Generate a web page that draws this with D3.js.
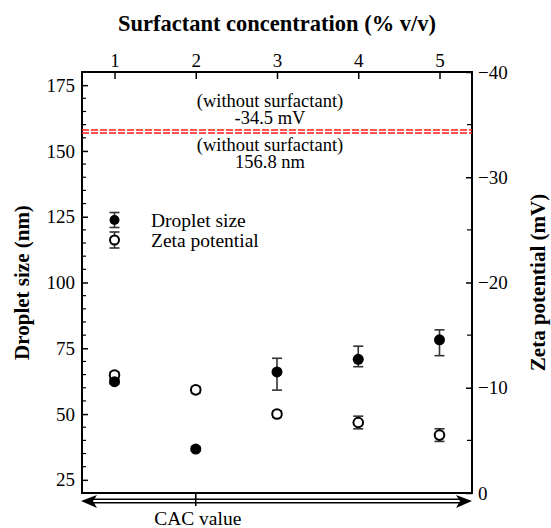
<!DOCTYPE html>
<html>

<head>
    <meta charset="utf-8" />
    <style>
        body {
            margin: 0;
            background-color: white;
        }
        text {
            font-family: "Liberation Serif", "Times New Roman", serif;
        }
    </style>

    <script src="https://d3js.org/d3.v7.min.js"></script>
</head>

<body>
    <script>
        // data
        var concentration = [1, 2, 3, 4, 5];
        var dropletSize = [62.3, 36.7, 66.0, 70.8, 78.2];
        var dropletErrUp = [0.8, 0.8, 5.2, 5.0, 3.8];
        var dropletErrDown = [0.8, 0.8, 6.9, 2.8, 6.0];
        var zetaPotential = [-11.2, -9.8, -7.5, -6.7, -5.5];
        var zetaErr = [0.3, 0.3, 0.3, 0.6, 0.6];

        var topTicks = [1, 2, 3, 4, 5];
        var leftTicks = [25, 50, 75, 100, 125, 150, 175];
        var rightTicks = [0, -10, -20, -30, -40];

        var sizeWithout = 156.8,
            zetaWithout = -34.5;

        var width = 551,
            height = 528;

        // plot frame (note: "top" is reserved on window, so prefix these)
        var pLeft = 82, pRight = 472, pTop = 72, pBottom = 493;

        var svg = d3.select("body").append("svg")
            .attr("width", width)
            .attr("height", height);

        var x = d3.scaleLinear().domain([0.6, 5.4]).range([pLeft, pRight]);
        var yL = d3.scaleLinear().domain([20, 180]).range([pBottom, pTop]);
        var yR = d3.scaleLinear().domain([0, -40]).range([pBottom, pTop]);

        // axes
        var topAxis = svg.append("g")
            .attr("transform", "translate(0," + pTop + ")")
            .call(d3.axisTop(x).tickValues(topTicks).tickFormat(d3.format("d"))
                .tickSizeInner(-7).tickSizeOuter(0).tickPadding(5));

        var leftAxis = svg.append("g")
            .attr("transform", "translate(" + pLeft + ",0)")
            .call(d3.axisLeft(yL).tickValues(leftTicks).tickSizeInner(-6).tickSizeOuter(0).tickPadding(7));

        var rightAxis = svg.append("g")
            .attr("transform", "translate(" + pRight + ",0)")
            .call(d3.axisRight(yR).tickValues(rightTicks).tickSizeInner(-6).tickSizeOuter(0).tickPadding(6));

        [topAxis, leftAxis, rightAxis].forEach(function (a) {
            a.select(".domain").remove();
            a.selectAll("text").attr("font-size", 19).attr("fill", "black")
                .attr("font-family", "Liberation Serif");
            a.selectAll("line").attr("stroke", "black").attr("stroke-width", 1.5);
        });

        // minor ticks
        var leftMinor = d3.range(20, 181, 5).filter(function (d) { return d % 25 != 0; });
        svg.append("g").selectAll("line").data(leftMinor).enter().append("line")
            .attr("x1", pLeft).attr("x2", pLeft + 4)
            .attr("y1", function (d) { return yL(d); })
            .attr("y2", function (d) { return yL(d); })
            .attr("stroke", "black").attr("stroke-width", 1.2);

        var rightMinor = [-5, -15, -25, -35];
        svg.append("g").selectAll("line").data(rightMinor).enter().append("line")
            .attr("x1", pRight).attr("x2", pRight - 5)
            .attr("y1", function (d) { return yR(d); })
            .attr("y2", function (d) { return yR(d); })
            .attr("stroke", "black").attr("stroke-width", 1.2);

        // frame
        svg.append("rect")
            .attr("x", pLeft).attr("y", pTop)
            .attr("width", pRight - pLeft).attr("height", pBottom - pTop)
            .attr("fill", "none").attr("stroke", "black").attr("stroke-width", 2);

        // reference lines without surfactant
        svg.append("line")
            .attr("x1", pLeft).attr("x2", pRight)
            .attr("y1", yR(zetaWithout)).attr("y2", yR(zetaWithout))
            .attr("stroke", "#ff1a1a").attr("stroke-width", 1.5).attr("stroke-dasharray", "7,2");
        svg.append("line")
            .attr("x1", pLeft).attr("x2", pRight)
            .attr("y1", yL(sizeWithout)).attr("y2", yL(sizeWithout))
            .attr("stroke", "#ff1a1a").attr("stroke-width", 1.5).attr("stroke-dasharray", "7,2");

        var notes = [
            ["(without surfactant)", yR(zetaWithout) - 23],
            [zetaWithout.toFixed(1) + " mV", yR(zetaWithout) - 6],
            ["(without surfactant)", yL(sizeWithout) + 18],
            [sizeWithout + " nm", yL(sizeWithout) + 35]
        ];
        svg.append("g").selectAll("text").data(notes).enter().append("text")
            .attr("x", 270)
            .attr("y", function (d) { return d[1]; })
            .attr("text-anchor", "middle")
            .attr("font-size", 18.5)
            .text(function (d) { return d[0]; });

        // error bars
        function errorBar(g, cx, y1, y2) {
            g.append("line").attr("x1", cx).attr("x2", cx).attr("y1", y1).attr("y2", y2);
            g.append("line").attr("x1", cx - 5).attr("x2", cx + 5).attr("y1", y1).attr("y2", y1);
            g.append("line").attr("x1", cx - 5).attr("x2", cx + 5).attr("y1", y2).attr("y2", y2);
        }

        var bars = svg.append("g").attr("stroke", "#333").attr("stroke-width", 1.6);
        concentration.forEach(function (c, i) {
            errorBar(bars, x(c), yL(dropletSize[i] + dropletErrUp[i]), yL(dropletSize[i] - dropletErrDown[i]));
            errorBar(bars, x(c), yR(zetaPotential[i] - zetaErr[i]), yR(zetaPotential[i] + zetaErr[i]));
        });

        // zeta potential (open), then droplet size (filled)
        svg.append("g").selectAll("circle").data(concentration).enter().append("circle")
            .attr("cx", function (d) { return x(d); })
            .attr("cy", function (d, i) { return yR(zetaPotential[i]); })
            .attr("r", 4.8)
            .attr("fill", "white").attr("stroke", "black").attr("stroke-width", 2);

        svg.append("g").selectAll("circle").data(concentration).enter().append("circle")
            .attr("cx", function (d) { return x(d); })
            .attr("cy", function (d, i) { return yL(dropletSize[i]); })
            .attr("r", 5.5)
            .attr("fill", "black");

        // legend
        var legend = svg.append("g");
        var lg = legend.append("g").attr("stroke", "#333").attr("stroke-width", 1.6);
        errorBar(lg, x(1), 212.5, 227.5);
        errorBar(lg, x(1), 232, 248);
        legend.append("circle").attr("cx", x(1)).attr("cy", 220).attr("r", 5).attr("fill", "black");
        legend.append("circle").attr("cx", x(1)).attr("cy", 240).attr("r", 4.5)
            .attr("fill", "white").attr("stroke", "black").attr("stroke-width", 2);
        legend.append("text").attr("x", 151).attr("y", 227).attr("font-size", 19.5).text("Droplet size");
        legend.append("text").attr("x", 151).attr("y", 247).attr("font-size", 19.5).text("Zeta potential");

        // CAC arrow below the plot
        var arrow = svg.append("g");
        arrow.append("line").attr("x1", pLeft + 10).attr("x2", pRight - 10).attr("y1", 499.3).attr("y2", 499.3)
            .attr("stroke", "black").attr("stroke-width", 1.4);
        arrow.append("line").attr("x1", pLeft + 10).attr("x2", pRight - 10).attr("y1", 502.8).attr("y2", 502.8)
            .attr("stroke", "black").attr("stroke-width", 1.4);
        arrow.append("path")
            .attr("d", "M" + (pLeft - 1) + ",501 L" + (pLeft + 15) + ",495 L" + (pLeft + 11) + ",501 L" + (pLeft + 15) + ",508 Z")
            .attr("fill", "black");
        arrow.append("path")
            .attr("d", "M" + pRight + ",501 L" + (pRight - 16) + ",495 L" + (pRight - 12) + ",501 L" + (pRight - 16) + ",508 Z")
            .attr("fill", "black");
        arrow.append("line").attr("x1", x(2)).attr("x2", x(2)).attr("y1", pBottom).attr("y2", 506)
            .attr("stroke", "black").attr("stroke-width", 1.6);
        svg.append("text").attr("x", x(2) + 2).attr("y", 525).attr("text-anchor", "middle")
            .attr("font-size", 19.5).text("CAC value");

        // axis titles
        svg.append("text")
            .attr("x", (pLeft + pRight) / 2).attr("y", 31)
            .attr("text-anchor", "middle").attr("font-size", 22.5).attr("font-weight", "bold")
            .text("Surfactant concentration (% v/v)");

        svg.append("text")
            .attr("transform", "translate(29," + (pTop + pBottom) / 2 + ")rotate(-90)")
            .attr("text-anchor", "middle").attr("font-size", 21).attr("font-weight", "bold")
            .text("Droplet size (nm)");

        svg.append("text")
            .attr("transform", "translate(545," + (pTop + pBottom) / 2 + ")rotate(-90)")
            .attr("text-anchor", "middle").attr("font-size", 21).attr("font-weight", "bold")
            .text("Zeta potential (mV)");
    </script>
</body>

</html>
